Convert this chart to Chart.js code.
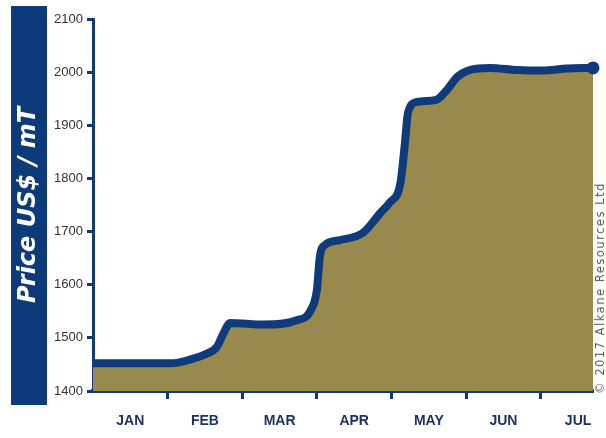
<!DOCTYPE html>
<html>
<head>
<meta charset="utf-8">
<script src="https://cdn.jsdelivr.net/npm/chart.js@4"></script>
<style>
  html, body { margin: 0; padding: 0; background: #ffffff; }
  #wrap { position: relative; width: 606px; height: 438px; overflow: hidden; }
  #copy {
    position: absolute; left: 600px; top: 288px;
    transform: translate(-50%, -50%) rotate(-90deg);
    white-space: nowrap; font-family: "DejaVu Sans", sans-serif; font-size: 11.5px;
    letter-spacing: 1.5px; color: #5a5a5a;
  }
</style>
</head>
<body>
<div id="wrap">
  <canvas id="c" width="606" height="438"></canvas>
  <div id="copy">© 2017 Alkane Resources Ltd</div>
</div>
<script>
// ---- data ----
const monthLabels = ["JAN", "FEB", "MAR", "APR", "MAY", "JUN", "JUL"];
const monthPos = [0, 0.6, 1.05, 1.3, 1.52, 1.66, 1.74, 1.84, 2.1, 2.3, 2.73, 2.91, 3.0, 3.04, 3.11, 3.31, 3.62, 3.85, 3.98, 4.12, 4.18, 4.22, 4.34, 4.6, 4.74, 4.88, 5.05, 5.32, 5.68, 6.03, 6.35, 6.7];
const prices   = [1452, 1452, 1452, 1459, 1470, 1483, 1506, 1528, 1526, 1525, 1533, 1550, 1590, 1653, 1675, 1684, 1698, 1735, 1755, 1792, 1867, 1923, 1944, 1948, 1966, 1991, 2004, 2008, 2004, 2003, 2007, 2008];
const yTicks = [1400, 1500, 1600, 1700, 1800, 1900, 2000, 2100];
const yTitle = "Price US$ / mT";

const NAVY = "#0f3a7c";
const OLIVE = "#978a4c";

const points = monthPos.map((m, i) => ({ x: m, y: prices[i] }));

const boxPlugin = {
  id: "titleBox",
  beforeDraw(chart) {
    const ctx = chart.ctx;
    ctx.save();
    ctx.fillStyle = "#0d3a78";
    ctx.fillRect(11, 6, 36, 399);
    ctx.restore();
  }
};

new Chart(document.getElementById("c"), {
  type: "line",
  data: {
    datasets: [{
      data: points,
      borderColor: NAVY,
      backgroundColor: OLIVE,
      borderWidth: 8,
      borderCapStyle: "butt",
      borderJoinStyle: "round",
      fill: "start",
      cubicInterpolationMode: "monotone",
      pointRadius: (c) => c.dataIndex === points.length - 1 ? 6.5 : 0,
      pointBackgroundColor: NAVY,
      pointBorderColor: NAVY,
      pointBorderWidth: 0,
      clip: false
    }]
  },
  options: {
    responsive: false,
    animation: false,
    events: [],
    layout: { padding: { left: 0, right: 13, top: 19, bottom: 0 } },
    plugins: { legend: { display: false }, tooltip: { enabled: false } },
    scales: {
      x: {
        type: "linear",
        min: 0, max: 6.7,
        afterBuildTicks: (s) => {
          const t = [];
          for (let v = 0; v <= 6.5; v += 0.5) t.push({ value: v });
          s.ticks = t;
        },
        afterFit: (s) => { s.height = 47; },
        ticks: {
          autoSkip: false,
          maxRotation: 0,
          padding: 14,
          color: "#1d3262",
          font: { family: "'Liberation Sans Narrow', 'Liberation Sans', sans-serif", size: 14, weight: "bold" },
          callback: (v) => (v % 1 === 0.5) ? monthLabels[Math.floor(v)] : ""
        },
        grid: {
          drawOnChartArea: false,
          tickLength: 8,
          tickWidth: 3,
          tickColor: (c) => (c.tick && c.tick.value % 1 === 0 && c.tick.value > 0) ? NAVY : "rgba(0,0,0,0)"
        },
        border: { color: NAVY, width: 4 }
      },
      y: {
        min: 1400, max: 2100,
        afterBuildTicks: (s) => { s.ticks = yTicks.map(v => ({ value: v })); },
        afterFit: (s) => { s.width = 93; },
        ticks: {
          padding: 4,
          color: "#333333",
          font: { family: "'Liberation Sans Narrow', 'Liberation Sans', sans-serif", size: 13 },
          callback: (v) => String(v)
        },
        grid: {
          drawOnChartArea: false,
          tickLength: 6,
          tickWidth: 3,
          tickColor: NAVY
        },
        border: { color: NAVY, width: 3 },
        title: {
          display: true,
          text: yTitle,
          color: "#ffffff",
          padding: { top: 17, bottom: 0 },
          font: { family: "'DejaVu Sans', sans-serif", size: 24, weight: "bold", style: "italic", lineHeight: 1 }
        }
      }
    }
  },
  plugins: [boxPlugin]
});
</script>
</body>
</html>
